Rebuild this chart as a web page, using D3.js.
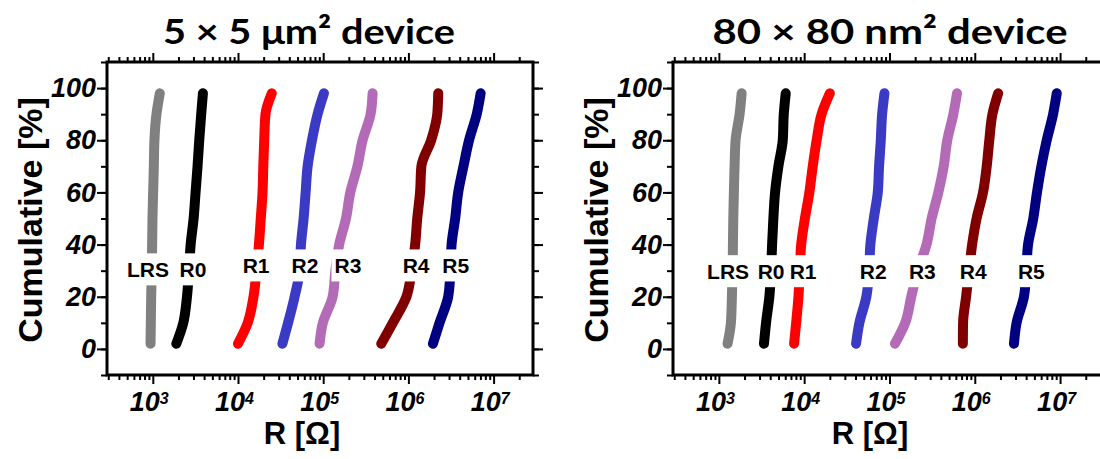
<!DOCTYPE html>
<html>
<head>
<meta charset="utf-8">
<script src="https://cdn.jsdelivr.net/npm/d3@7"></script>
<style>
  body { margin: 0; background: #fff; }
  svg text { font-family: "Liberation Sans", Arial, sans-serif; }
</style>
</head>
<body>
<svg id="chart" width="1100" height="459"></svg>
<script>
var cumLevels = [2, 10, 20, 30, 40, 50, 60, 70, 80, 90, 98];
var stateNames = ["LRS", "R0", "R1", "R2", "R3", "R4", "R5"];
var stateColors = ["#808080", "#000000", "#ff0000", "#3a3ac4", "#b36bb8", "#800000", "#000080"];

// 5 x 5 um^2 device, R in ohm per state
var rMicro = [
  [940, 948, 957, 973, 982, 991, 1009, 1028, 1045, 1104, 1208],
  [1888, 2280, 2518, 2655, 2780, 3013, 3177, 3350, 3508, 3700, 3873],
  [1.00e4, 1.30e4, 1.52e4, 1.65e4, 1.76e4, 1.85e4, 1.94e4, 1.98e4, 2.03e4, 2.10e4, 2.49e4],
  [3.32e4, 3.87e4, 4.62e4, 5.30e4, 5.48e4, 5.89e4, 6.22e4, 6.56e4, 7.38e4, 8.59e4, 1.02e5],
  [9.06e4, 9.91e4, 1.29e5, 1.39e5, 1.54e5, 1.85e5, 2.08e5, 2.52e5, 2.90e5, 3.60e5, 3.80e5],
  [4.80e5, 6.56e5, 9.48e5, 1.09e6, 1.20e6, 1.27e6, 1.37e6, 1.42e6, 1.85e6, 2.18e6, 2.24e6],
  [1.94e6, 2.32e6, 2.93e6, 3.12e6, 3.21e6, 3.54e6, 3.84e6, 4.43e6, 5.15e6, 6.34e6, 7.05e6]
];
// 80 x 80 nm^2 device
var rNano = [
  [1265, 1384, 1422, 1449, 1462, 1476, 1500, 1528, 1570, 1750, 1849],
  [3381, 3573, 3908, 4093, 4207, 4355, 4560, 4989, 5610, 5768, 6081],
  [7621, 8054, 8570, 8892, 9226, 1.02e4, 1.15e4, 1.26e4, 1.40e4, 1.60e4, 2.00e4],
  [4.06e4, 4.44e4, 5.36e4, 5.77e4, 5.97e4, 6.55e4, 7.29e4, 7.55e4, 7.91e4, 8.20e4, 8.73e4],
  [1.16e5, 1.53e5, 1.80e5, 2.15e5, 2.72e5, 3.12e5, 3.74e5, 4.32e5, 4.76e5, 5.61e5, 6.19e5],
  [7.25e5, 7.29e5, 7.91e5, 8.57e5, 9.31e5, 1.05e6, 1.25e6, 1.38e6, 1.48e6, 1.61e6, 1.88e6],
  [2.88e6, 3.09e6, 3.77e6, 4.02e6, 4.21e6, 4.85e6, 5.36e6, 6.03e6, 6.97e6, 8.28e6, 9.14e6]
];

// where the state labels sit (R, cumulative %)
var labelRMicro = [877, 2958, 1.63e4, 6.1e4, 1.95e5, 1.23e6, 3.6e6];
var labelCumMicro = [30.5, 30.5, 32, 32, 32, 32, 32];
var labelRNano = [1282, 4093, 9727, 6.44e4, 2.43e5, 9.6e5, 4.61e6];
var labelCumNano = [29.8, 29.8, 29.8, 29.8, 29.8, 29.8, 29.8];

var yTicks = [0, 20, 40, 60, 80, 100];
var yMinorTicks = d3.range(-10, 111, 10);
var xTickExps = [3, 4, 5, 6, 7];

var svg = d3.select("#chart");

function styleAxis(sel) {
  sel.select(".domain").remove();
  sel.selectAll(".tick line").attr("stroke", "#000").attr("stroke-width", 2);
}

function drawPanel(opts) {
  var g = svg.append("g")
    .attr("transform", "translate(" + opts.left + "," + opts.top + ")");

  var x = d3.scaleLog().domain(opts.xDomain).range([0, opts.width]);
  var y = d3.scaleLinear().domain([-10, 110]).range([opts.height, 0]);

  // curves
  var line = d3.line()
    .x(function(d) { return x(d[0]); })
    .y(function(d) { return y(d[1]); })
    .curve(d3.curveMonotoneY);

  opts.rValues.forEach(function(rs, i) {
    g.append("path")
      .datum(rs.map(function(r, j) { return [r, cumLevels[j]]; }))
      .attr("d", line)
      .attr("fill", "none")
      .attr("stroke", stateColors[i])
      .attr("stroke-width", 10)
      .attr("stroke-linecap", "round")
      .attr("stroke-linejoin", "round");
  });

  // state labels on white boxes that cut the curves
  stateNames.forEach(function(name, i) {
    var lx = x(opts.labelR[i]), ly = y(opts.labelCum[i]);
    var lg = g.append("g");
    var t = lg.append("text")
      .attr("x", lx).attr("y", ly)
      .attr("dy", "0.36em")
      .attr("text-anchor", "middle")
      .style("font-size", "21px")
      .style("font-weight", "bold")
      .text(name);
    var w = t.node().getComputedTextLength();
    lg.insert("rect", "text")
      .attr("x", lx - w / 2 - 3).attr("y", ly - 16)
      .attr("width", w + 6).attr("height", 32)
      .attr("fill", "#fff");
  });

  // y axis, left with labels, right mirrored
  g.append("g").call(d3.axisLeft(y).tickValues(yMinorTicks).tickSize(6).tickFormat("")).call(styleAxis);
  var yAx = g.append("g")
    .call(d3.axisLeft(y).tickValues(yTicks).tickSize(10).tickPadding(1).tickFormat(d3.format("d")))
    .call(styleAxis);
  yAx.selectAll("text")
    .style("font-family", "'Liberation Sans', Arial, sans-serif")
    .style("font-size", "27px").style("font-weight", "bold").style("font-style", "italic");
  g.append("g").attr("transform", "translate(" + opts.width + ",0)")
    .call(d3.axisRight(y).tickValues(yMinorTicks).tickSize(6).tickFormat("")).call(styleAxis);
  g.append("g").attr("transform", "translate(" + opts.width + ",0)")
    .call(d3.axisRight(y).tickValues(yTicks).tickSize(10).tickFormat("")).call(styleAxis);

  // x axis, log ticks
  var lo = opts.xDomain[0], hi = opts.xDomain[1];
  var xMinor = [];
  for (var e = 2; e <= 7; e++) {
    for (var k = 2; k <= 9; k++) {
      var v = k * Math.pow(10, e);
      if (v >= lo && v <= hi) xMinor.push(v);
    }
  }
  var xMajor = xTickExps.map(function(e) { return Math.pow(10, e); });

  [["bottom", opts.height], ["top", 0]].forEach(function(side) {
    var mk = side[0] === "bottom" ? d3.axisBottom : d3.axisTop;
    g.append("g").attr("transform", "translate(0," + side[1] + ")")
      .call(mk(x).tickValues(xMinor).tickSize(5).tickFormat("")).call(styleAxis);
    var ax = g.append("g").attr("transform", "translate(0," + side[1] + ")")
      .call(mk(x).tickValues(xMajor).tickSize(9).tickPadding(8).tickFormat(side[0] === "bottom" ? null : ""))
      .call(styleAxis);
    if (side[0] === "bottom") {
      ax.selectAll("text").each(function(d, i) {
        var t = d3.select(this).text("")
          .attr("x", -4)
          .style("font-family", "'Liberation Sans', Arial, sans-serif")
          .style("font-size", "27px").style("font-weight", "bold").style("font-style", "italic");
        t.append("tspan").text("10");
        t.append("tspan").attr("dy", "-0.45em").style("font-size", "16px").text(xTickExps[i]);
      });
    }
  });

  // frame
  g.append("rect")
    .attr("width", opts.width).attr("height", opts.height)
    .attr("fill", "none").attr("stroke", "#000").attr("stroke-width", 3);

  // titles
  svg.append("text")
    .attr("x", opts.titleX).attr("y", 44)
    .attr("text-anchor", "middle")
    .attr("textLength", opts.titleW).attr("lengthAdjust", "spacingAndGlyphs")
    .style("font-family", "Lato, 'Open Sans', sans-serif")
    .style("font-size", "35px").style("font-weight", "bold")
    .text(opts.title);

  svg.append("text")
    .attr("x", opts.left + opts.xLabelDx).attr("y", 444)
    .attr("text-anchor", "middle")
    .style("font-size", "31px").style("font-weight", "bold")
    .text("R [\u03A9]");

  svg.append("text")
    .attr("transform", "translate(" + (opts.left - 65) + ",220) rotate(-90)")
    .attr("text-anchor", "middle")
    .style("font-size", "34px").style("font-weight", "bold")
    .text("Cumulative [%]");
}

drawPanel({
  left: 107, top: 62, width: 426, height: 313,
  xDomain: [290, 2.9e7],
  rValues: rMicro, labelR: labelRMicro, labelCum: labelCumMicro,
  title: "5 \u00D7 5 \u03BCm\u00B2 device", titleX: 309, titleW: 292, xLabelDx: 195
});
drawPanel({
  left: 673, top: 62, width: 429, height: 313,
  xDomain: [290, 3.1e7],
  rValues: rNano, labelR: labelRNano, labelCum: labelCumNano,
  title: "80 \u00D7 80 nm\u00B2 device", titleX: 890, titleW: 355, xLabelDx: 197
});
</script>
</body>
</html>
